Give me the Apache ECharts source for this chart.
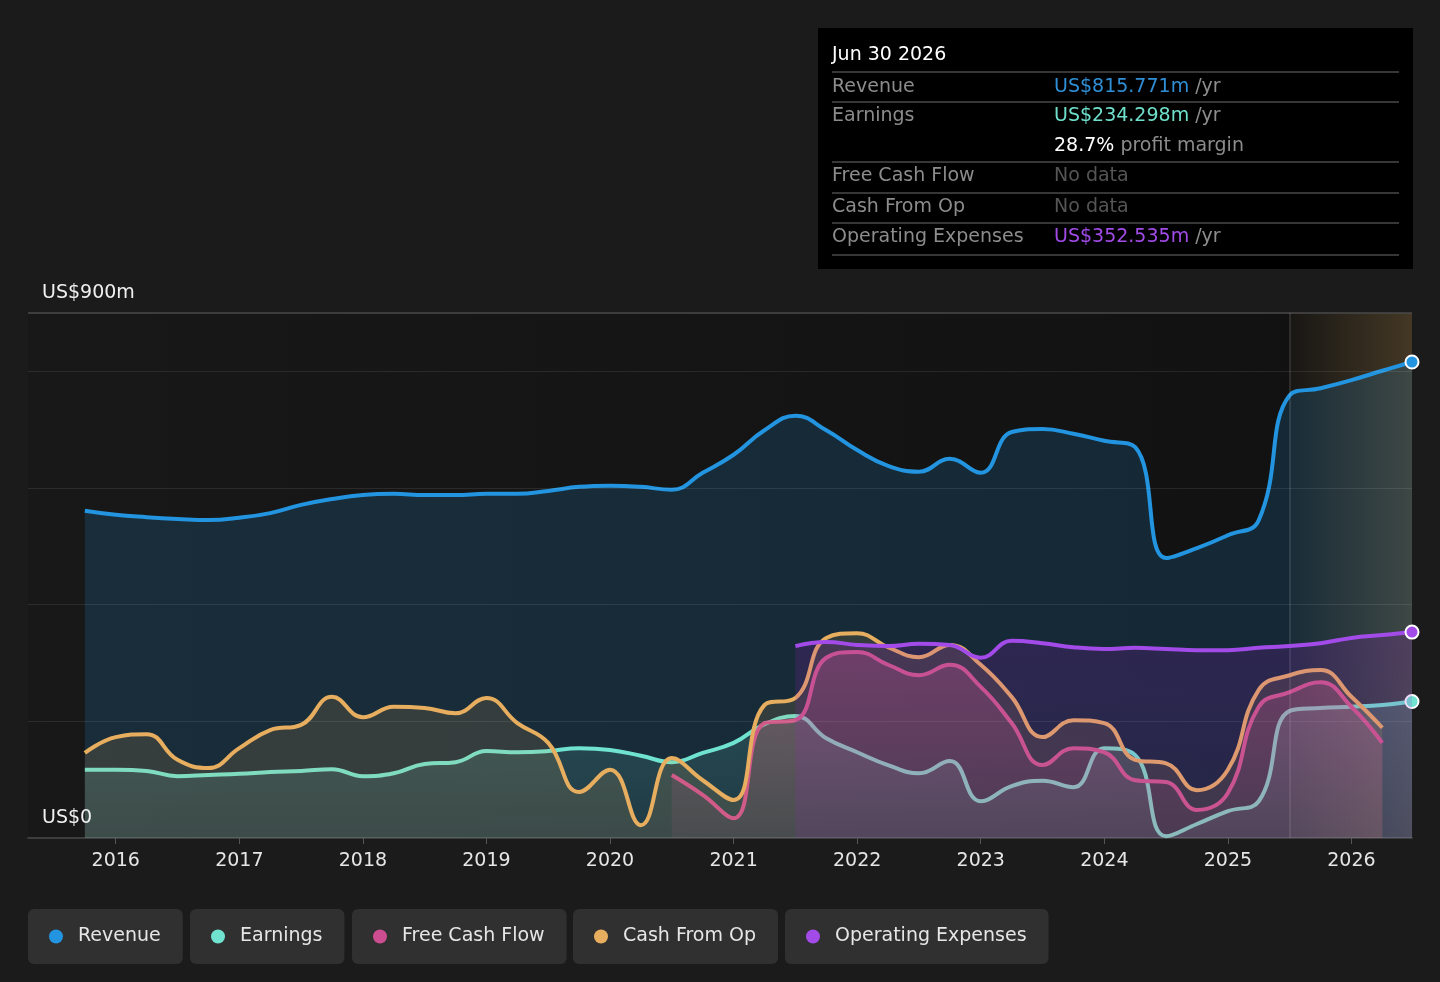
<!DOCTYPE html>
<html>
<head>
<meta charset="utf-8">
<title>Revenue and earnings history</title>
<script src="https://cdn.jsdelivr.net/npm/echarts@6/dist/echarts.min.js"></script>
<style>
  html, body { margin: 0; padding: 0; background: #1b1b1b; }
  #main { width: 1440px; height: 982px; }
</style>
</head>
<body>
<div id="main"></div>
<script>
// period ends, as decimal years (quarterly, last one is Jun 30 2026)
var periods = [
  2015.75, 2016.0, 2016.25, 2016.5, 2016.75, 2017.0, 2017.25, 2017.5, 2017.75,
  2018.0, 2018.25, 2018.5, 2018.75, 2019.0, 2019.25, 2019.5, 2019.75,
  2020.0, 2020.25, 2020.5, 2020.75, 2021.0, 2021.25, 2021.5, 2021.75,
  2022.0, 2022.25, 2022.5, 2022.75, 2023.0, 2023.25, 2023.5, 2023.75,
  2024.0, 2024.25, 2024.5, 2024.75, 2025.0, 2025.25, 2025.5, 2025.75,
  2026.0, 2026.25, 2026.49
];

// US$ m, trailing twelve months
var revenue = [561, 554, 550, 547, 545, 549, 557, 571, 581, 588, 590, 588, 588, 590, 590,
  595, 602, 604, 602, 597, 626, 657, 699, 724, 699, 665, 638, 628, 650, 626,
  696, 701, 693, 681, 670, 480, 497, 519, 545, 759, 771, 785, 801, 816];
var earnings = [117, 117, 115, 106, 108, 110, 113, 115, 118, 106, 111, 127, 130, 149, 147,
  149, 154, 151, 141, 130, 146, 163, 195, 209, 171, 147, 125, 111, 132, 63,
  89, 98, 87, 154, 142, 3, 24, 46, 63, 218, 223, 225, 228, 234];
var cashFromOp = [146, 173, 178, 134, 120, 154, 185, 194, 242, 207, 225, 223, 214, 240, 197,
  163, 79, 117, 22, 137, 99, 65, 228, 240, 343, 351, 327, 310, 331, 297,
  242, 173, 202, 197, 134, 128, 82, 117, 254, 279, 288, 242, 189];
// free cash flow starts at 2020.5 (index 19)
var freeCashFlow = [108, 74, 34, 197, 202, 309, 319, 297, 279, 297, 259, 197, 125, 154,
  147, 99, 96, 48, 77, 225, 250, 267, 225, 163];
// operating expenses start at 2021.5 (index 23)
var opex = [329, 336, 331, 329, 333, 331, 309, 338, 334, 327, 324, 326, 324, 322, 322,
  326, 329, 334, 343, 348, 353];

var yearTicks = [2016, 2017, 2018, 2019, 2020, 2021, 2022, 2023, 2024, 2025, 2026];
var forecastStart = 2025.5;

function pairs(values, offset, endMarker) {
  return values.map(function (v, i) {
    var item = { value: [periods[i + offset], v] };
    if (endMarker && i === values.length - 1) {
      item.symbol = 'circle';
      item.symbolSize = 13;
    }
    return item;
  });
}

function vgrad(rgb, top, bottom) {
  return new echarts.graphic.LinearGradient(0, 0, 0, 1, [
    { offset: 0, color: 'rgba(' + rgb + ',' + top + ')' },
    { offset: 1, color: 'rgba(' + rgb + ',' + bottom + ')' }
  ]);
}

var chart = echarts.init(document.getElementById('main'));

function lineSeries(name, color, data, areaColor, z) {
  return {
    name: name,
    type: 'line',
    data: data,
    z: z,
    smooth: 0.45,
    symbol: 'none',
    showSymbol: true,
    lineStyle: { color: color, width: 4 },
    itemStyle: { color: color, borderColor: '#ffffff', borderWidth: 2 },
    areaStyle: { color: areaColor },
    emphasis: { disabled: true },
    silent: true
  };
}

var gridLine = { color: 'rgba(255,255,255,0.09)', width: 1, type: 'solid' };
var revSeries = lineSeries('Revenue', '#2394df', pairs(revenue, 0, true), 'rgba(35,148,223,0.25)', 2);
revSeries.markLine = {
  silent: true,
  symbol: 'none',
  label: { show: false },
  data: [
    { yAxis: 200, lineStyle: gridLine },
    { yAxis: 400, lineStyle: gridLine },
    { yAxis: 600, lineStyle: gridLine },
    { yAxis: 800, lineStyle: gridLine },
    { yAxis: 900, lineStyle: { color: '#4a4a4a', width: 1.5, type: 'solid' } }
  ]
};

var opexSeries = lineSeries('Operating Expenses', '#a24be8', pairs(opex, 23, true), vgrad('160,30,205', 0.26, 0.16), 6);
opexSeries.markArea = {
  silent: true,
  itemStyle: {
    color: new echarts.graphic.LinearGradient(0, 0, 1, 0, [
      { offset: 0, color: 'rgba(230,180,100,0.03)' },
      { offset: 1, color: 'rgba(230,180,100,0.24)' }
    ])
  },
  data: [[{ xAxis: forecastStart }, { xAxis: 2026.49 }]]
};
opexSeries.markLine = {
  silent: true,
  symbol: 'none',
  label: { show: false },
  data: [{ xAxis: forecastStart, lineStyle: { color: 'rgba(255,255,255,0.14)', width: 1.5, type: 'solid' } }]
};

function legendBox(name, left) {
  return {
    data: [name],
    left: left,
    top: 909,
    orient: 'horizontal',
    backgroundColor: '#303030',
    borderRadius: 6,
    padding: [18, 22, 18, 21],
    icon: 'circle',
    itemWidth: 14,
    itemHeight: 14,
    itemStyle: { borderWidth: 0 },
    selectedMode: false,
    textStyle: { color: '#e6e6e6', fontSize: 19, fontFamily: 'DejaVu Sans', padding: [0, 0, 0, 10] }
  };
}

var rowLabel = { fill: '#8c8c8c', fontSize: 19, fontFamily: 'DejaVu Sans', verticalAlign: 'middle' };
function txt(x, y, text, extra) {
  var style = Object.assign({ x: x, y: y, text: text }, rowLabel, extra || {});
  return { type: 'text', style: style, silent: true };
}
function sep(y) {
  return { type: 'line', shape: { x1: 832, y1: y, x2: 1399, y2: y }, style: { stroke: '#4a4a4a', lineWidth: 1.5 }, silent: true };
}
var rich = {
  rev: { fill: '#2f8fd6', fontSize: 19, fontFamily: 'DejaVu Sans' },
  earn: { fill: '#6fe0cc', fontSize: 19, fontFamily: 'DejaVu Sans' },
  op: { fill: '#a24be8', fontSize: 19, fontFamily: 'DejaVu Sans' },
  wh: { fill: '#ffffff', fontSize: 19, fontFamily: 'DejaVu Sans' },
  gr: { fill: '#8c8c8c', fontSize: 19, fontFamily: 'DejaVu Sans' },
  nd: { fill: '#555555', fontSize: 19, fontFamily: 'DejaVu Sans' }
};

var option = {
  backgroundColor: '#1b1b1b',
  animation: false,
  textStyle: { fontFamily: 'DejaVu Sans' },
  grid: {
    left: 28, right: 28, top: 313, bottom: 144,
    show: true,
    borderWidth: 0,
    backgroundColor: new echarts.graphic.LinearGradient(0, 0, 1, 0, [
      { offset: 0, color: '#181818' },
      { offset: 1, color: '#111111' }
    ])
  },
  xAxis: {
    type: 'value',
    min: 2015.29,
    max: 2026.49,
    axisLine: { show: true, lineStyle: { color: '#4a4a4a', width: 1.5 } },
    axisTick: { show: true, customValues: yearTicks, length: 6, lineStyle: { color: '#555' } },
    axisLabel: {
      customValues: yearTicks,
      color: '#e6e6e6',
      fontSize: 19,
      margin: 14,
      formatter: function (v) { return String(Math.round(v)); }
    },
    splitLine: { show: false }
  },
  yAxis: {
    type: 'value',
    min: 0,
    max: 900,
    interval: 100,
    axisLine: { show: false },
    axisTick: { show: false },
    splitLine: { show: false },
    axisLabel: {
      inside: true,
      margin: 14,
      color: '#f0f0f0',
      fontSize: 19,
      verticalAlign: 'bottom',
      padding: [0, 0, 10, 0],
      formatter: function (v) {
        if (v === 900) return 'US$900m';
        if (v === 0) return 'US$0';
        return '';
      }
    },
    z: 10
  },
  legend: [
    legendBox('Revenue', 28),
    legendBox('Earnings', 190),
    legendBox('Free Cash Flow', 352),
    legendBox('Cash From Op', 573),
    legendBox('Operating Expenses', 785)
  ],
  series: [
    revSeries,
    lineSeries('Earnings', '#6fe3cf', pairs(earnings, 0, true), vgrad('120,225,210', 0.26, 0.12), 3),
    lineSeries('Free Cash Flow', '#cc4d90', pairs(freeCashFlow, 19, false), vgrad('210,80,150', 0.42, 0.12), 4),
    lineSeries('Cash From Op', '#e8ae5f', pairs(cashFromOp, 0, false), 'rgba(232,174,95,0.2)', 5),
    opexSeries
  ],
  graphic: [
    { type: 'rect', shape: { x: 818, y: 28, width: 595, height: 241 }, style: { fill: '#000000' }, silent: true },
    txt(832, 55, 'Jun 30 2026', { fill: '#ffffff' }),
    sep(72),
    txt(832, 87, 'Revenue'),
    txt(1054, 87, '{rev|US$815.771m}{gr| /yr}', { rich: rich }),
    sep(102),
    txt(832, 116, 'Earnings'),
    txt(1054, 116, '{earn|US$234.298m}{gr| /yr}', { rich: rich }),
    txt(1054, 146, '{wh|28.7%}{gr| profit margin}', { rich: rich }),
    sep(162),
    txt(832, 176, 'Free Cash Flow'),
    txt(1054, 176, '{nd|No data}', { rich: rich }),
    sep(193),
    txt(832, 207, 'Cash From Op'),
    txt(1054, 207, '{nd|No data}', { rich: rich }),
    sep(223),
    txt(832, 237, 'Operating Expenses'),
    txt(1054, 237, '{op|US$352.535m}{gr| /yr}', { rich: rich }),
    sep(255)
  ]
};

chart.setOption(option);
</script>
</body>
</html>
